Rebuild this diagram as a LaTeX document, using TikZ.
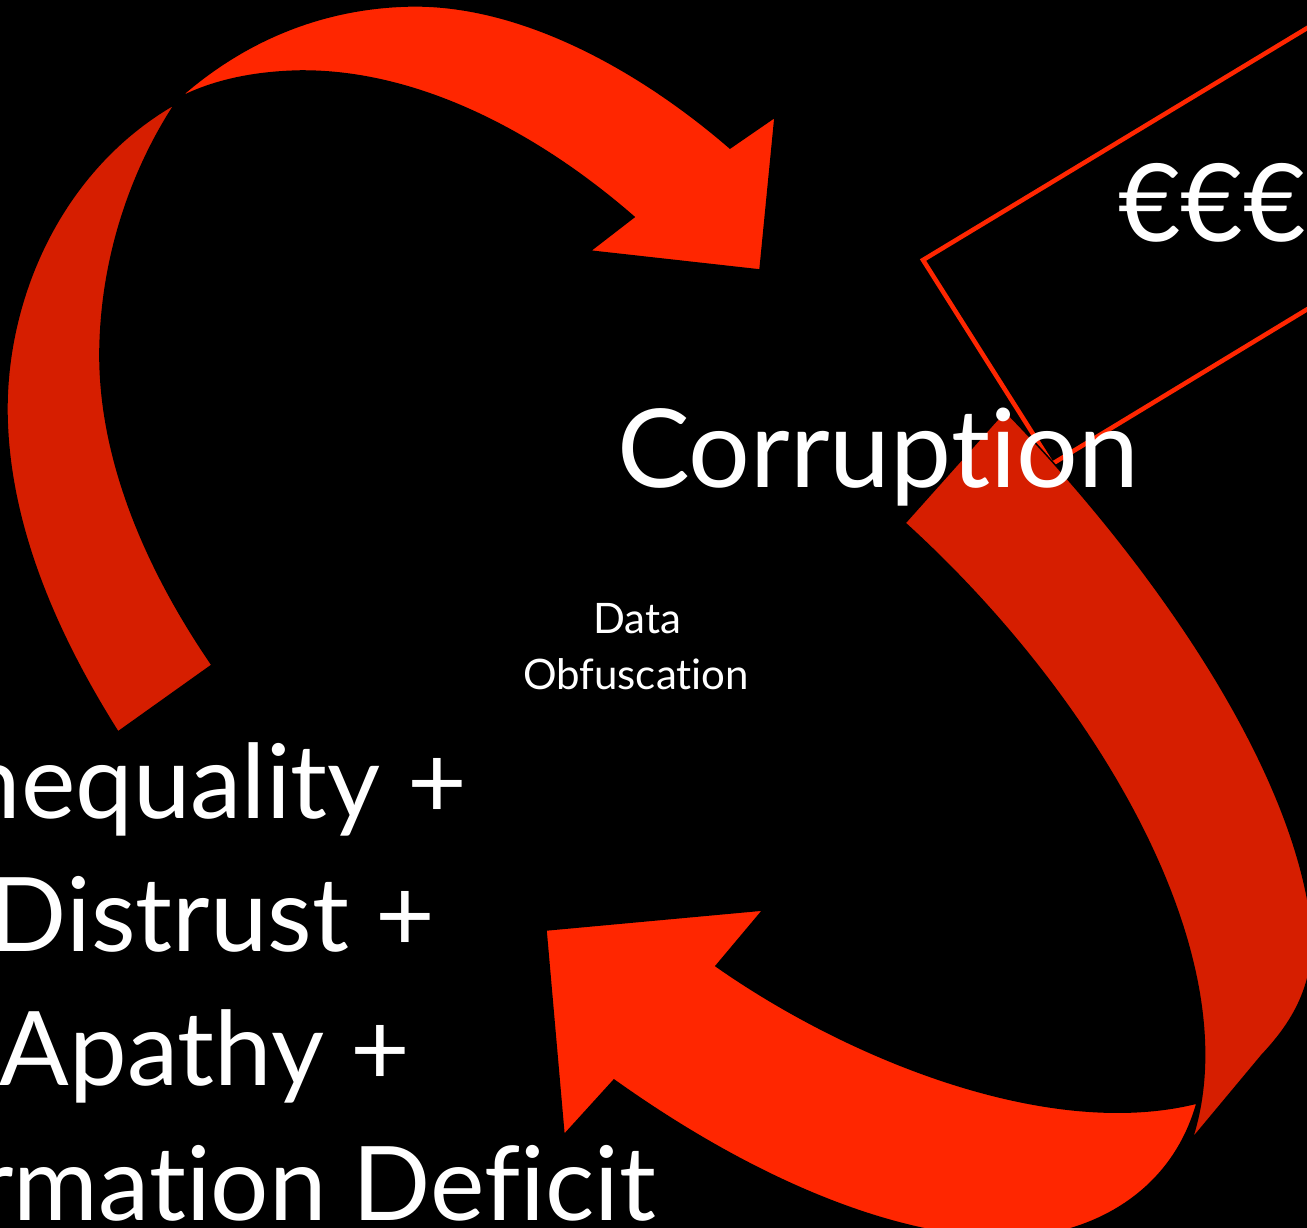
\documentclass[tikz,border=0pt]{standalone}
\usepackage{fontspec}
\setmainfont{Lato}[Ligatures={NoCommon,NoRequired,NoContextual}]
\definecolor{brightred}{RGB}{255,38,0}
\definecolor{darkred}{RGB}{214,30,0}
\tikzset{
  brightribbon/.style={fill=brightred, draw=black, line width=1.5pt, line join=miter},
  darkribbon/.style={fill=darkred, draw=black, line width=1.5pt, line join=miter},
  moneybox/.style={draw=brightred, line width=4.5pt, line join=miter},
  txt/.style={text=white, inner sep=0pt, outer sep=0pt},
  bigtxt/.style={txt, font=\fontsize{109}{130}\selectfont},
  sidetxt/.style={txt, font=\fontsize{103}{124}\selectfont, anchor=base east},
  smalltxt/.style={txt, font=\fontsize{42}{50}\selectfont, anchor=base}
}
\begin{document}
\begin{tikzpicture}[x=1pt,y=-1pt]
\useasboundingbox (0,0) rectangle (1307,1228);
\clip (0,0) rectangle (1307,1228);
\fill[black] (0,0) rectangle (1307,1228);

% euro box outline
\draw[moneybox] (1400,-28) -- (923,260) -- (1052,464) -- (1400,253) -- cycle;

% left arc (dark)
\filldraw[darkribbon]
  (175,104) .. controls (60,170) and (5,300) .. (7,415)
  .. controls (9,530) and (60,640) .. (118,732)
  -- (212,665)
  .. controls (140,560) and (98,450) .. (100,348)
  .. controls (102,250) and (135,165) .. (175,104)
  -- cycle;

% top arrow (bright)
\filldraw[brightribbon]
  (179,98) .. controls (250,35) and (330,8) .. (408,6)
  .. controls (520,3) and (640,70) .. (730,148)
  -- (775,117) -- (760,270) -- (590,251) -- (634,217)
  .. controls (540,135) and (420,70) .. (300,71)
  .. controls (250,72) and (210,82) .. (179,98)
  -- cycle;

% right ribbon (dark)
\filldraw[darkribbon]
  (905,523) -- (1005,411)
  .. controls (1150,560) and (1290,760) .. (1311,920)
  .. controls (1318,980) and (1295,1020) .. (1262,1055)
  -- (1192,1139)
  .. controls (1250,960) and (1100,700) .. (905,523)
  -- cycle;

% bottom arrow (bright)
\filldraw[brightribbon]
  (546,930) -- (763,910) -- (716,966)
  .. controls (850,1060) and (1050,1140) .. (1197,1103)
  .. controls (1170,1200) and (1080,1240) .. (1000,1238)
  .. controls (880,1235) and (740,1170) .. (614,1080)
  -- (564,1135) -- cycle;

% texts
\node[bigtxt, anchor=base] (corr) at (878,487) {Corruption};
\node[txt, font=\fontsize{108}{130}\selectfont, anchor=base west] (euro) at (1118,241) {€€€};
\node[smalltxt] (data) at (637,633) {Data};
\node[smalltxt] (obf) at (636,689) {Obfuscation};
\node[sidetxt] (ineq) at (467,818) {nequality +};
\node[sidetxt] (dist) at (435,951) {Distrust +};
\node[sidetxt] (apat) at (410,1085) {Apathy +};
\node[sidetxt] (info) at (656,1220) {rmation Deficit};
\end{tikzpicture}
\end{document}
